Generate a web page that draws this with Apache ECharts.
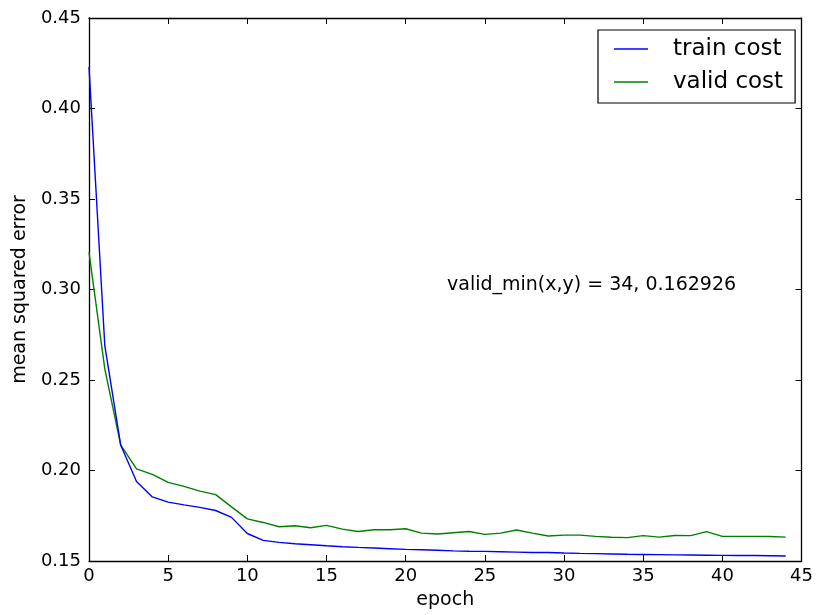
<!DOCTYPE html>
<html>
<head>
<meta charset="utf-8">
<script src="https://cdn.jsdelivr.net/npm/echarts@6/dist/echarts.min.js"></script>
<style>html,body{margin:0;padding:0;background:#fff;}#c{width:816px;height:615px;}</style>
</head>
<body>
<div id="c"></div>
<script>
const epochs = [0,1,2,3,4,5,6,7,8,9,10,11,12,13,14,15,16,17,18,19,20,21,22,23,24,25,26,27,28,29,30,31,32,33,34,35,36,37,38,39,40,41,42,43,44];
const trainCost = [0.4230,0.2688,0.2141,0.1939,0.1854,0.1825,0.1810,0.1796,0.1779,0.1741,0.1652,0.1614,0.1603,0.1595,0.1590,0.1584,0.1579,0.1575,0.1572,0.1568,0.1564,0.1562,0.1559,0.1556,0.1554,0.1553,0.1551,0.1549,0.1547,0.1547,0.1544,0.1542,0.1541,0.1539,0.1537,0.1536,0.1535,0.1534,0.1533,0.1532,0.1531,0.1530,0.1530,0.1529,0.1528];
const validCost = [0.3205,0.2560,0.2141,0.2009,0.1979,0.1934,0.1912,0.1886,0.1867,0.1799,0.1733,0.1713,0.1689,0.1695,0.1684,0.1697,0.1676,0.1663,0.1673,0.1673,0.1678,0.1654,0.1649,0.1656,0.1663,0.1647,0.1654,0.1671,0.1654,0.1638,0.1643,0.1643,0.1636,0.1631,0.1629,0.1640,0.1632,0.1641,0.1640,0.1662,0.1636,0.1636,0.1636,0.1635,0.1632];
const seriesNames = ['train cost', 'valid cost'];
const xLabel = 'epoch';
const yLabel = 'mean squared error';
const annotation = 'valid_min(x,y) = 34, 0.162926';

const FONT = 'DejaVu Sans';
const chart = echarts.init(document.getElementById('c'), null, {renderer: 'canvas'});
const pairs = arr => epochs.map((e, i) => [e, arr[i]]);
const axisCommon = {
  axisLine: {show: true, onZero: false, lineStyle: {color: '#000', width: 1.3}},
  axisTick: {show: true, inside: true, length: 6, lineStyle: {color: '#000', width: 1}},
  splitLine: {show: false}
};
chart.setOption({
  animation: false,
  backgroundColor: '#fff',
  grid: {left: 89, right: 13, top: 18, bottom: 52, containLabel: false},
  legend: {
    orient: 'vertical', left: 598, top: 30,
    data: seriesNames,
    icon: 'rect',
    backgroundColor: '#fff', borderColor: '#000', borderWidth: 1.2, borderRadius: 0,
    padding: [6, 12, 8, 16],
    itemWidth: 34, itemHeight: 1.5, itemGap: 7,
    itemStyle: {borderWidth: 0},
    textStyle: {fontFamily: FONT, fontSize: 23, color: '#000', lineHeight: 26, padding: [0, 0, 0, 20]}
  },
  xAxis: [
    Object.assign({type: 'value', min: 0, max: 45, interval: 5, position: 'bottom',
      name: xLabel, nameLocation: 'middle', nameGap: 30,
      nameTextStyle: {fontFamily: FONT, fontSize: 19, color: '#000'},
      axisLabel: {fontFamily: FONT, fontSize: 18, color: '#000', margin: 6}}, axisCommon),
    Object.assign({type: 'value', min: 0, max: 45, interval: 5, position: 'top',
      axisLabel: {show: false}}, axisCommon)
  ],
  yAxis: [
    Object.assign({type: 'value', min: 0.15, max: 0.45, interval: 0.05, position: 'left',
      name: yLabel, nameLocation: 'middle', nameGap: 57,
      nameTextStyle: {fontFamily: FONT, fontSize: 19, color: '#000'},
      axisLabel: {fontFamily: FONT, fontSize: 18, color: '#000', margin: 8, formatter: v => v.toFixed(2)}}, axisCommon),
    Object.assign({type: 'value', min: 0.15, max: 0.45, interval: 0.05, position: 'right',
      axisLabel: {show: false}}, axisCommon)
  ],
  series: [
    {name: seriesNames[0], type: 'line', data: pairs(trainCost), symbol: 'none',
      lineStyle: {color: '#0000ff', width: 1.4}, itemStyle: {color: '#0000ff'}, z: 3},
    {name: seriesNames[1], type: 'line', data: pairs(validCost), symbol: 'none',
      lineStyle: {color: '#008000', width: 1.4}, itemStyle: {color: '#008000'}, z: 2}
  ],
  graphic: [{
    type: 'text', left: 447, top: 276, z: 10,
    style: {text: annotation, fontFamily: FONT, fontSize: 19, fill: '#000'}
  }]
});
</script>
</body>
</html>
